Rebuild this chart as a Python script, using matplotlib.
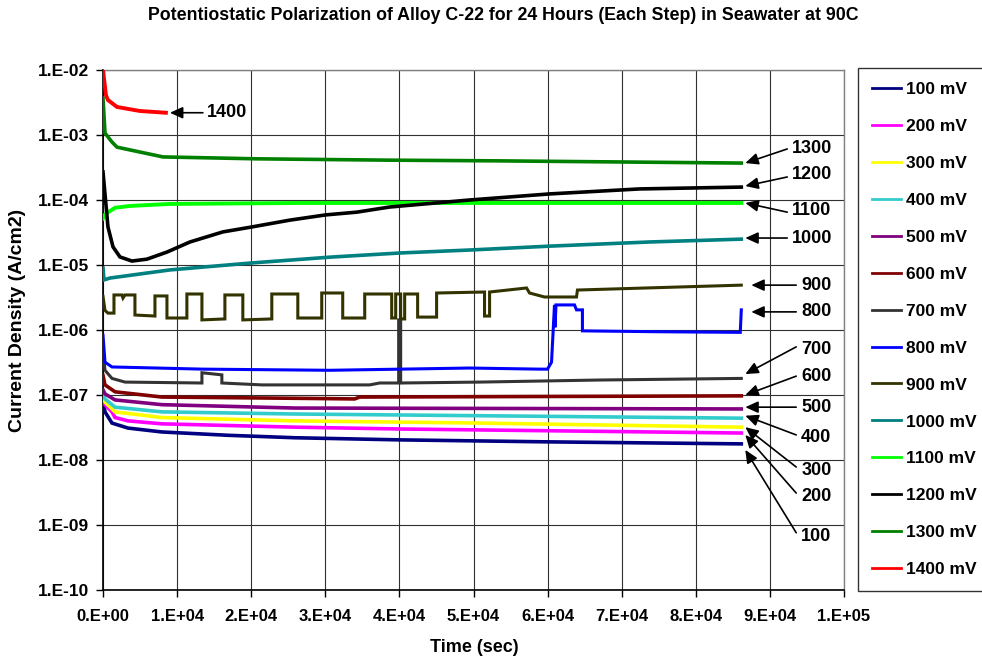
import matplotlib
matplotlib.use('Agg')
import matplotlib.pyplot as plt
from matplotlib.lines import Line2D

plt.rcParams['font.family'] = ['Liberation Sans', 'DejaVu Sans']
plt.rcParams['font.weight'] = 'bold'

# ---------------- data ----------------
title = "Potentiostatic Polarization of Alloy C-22 for 24 Hours (Each Step) in Seawater at 90C"
x_label = "Time (sec)"
y_label = "Current Density (A/cm2)"

xtick_values = [0, 1e4, 2e4, 3e4, 4e4, 5e4, 6e4, 7e4, 8e4, 9e4, 1e5]
xtick_labels = ['0.E+00', '1.E+04', '2.E+04', '3.E+04', '4.E+04', '5.E+04',
                '6.E+04', '7.E+04', '8.E+04', '9.E+04', '1.E+05']
ytick_values = [1e-10, 1e-9, 1e-8, 1e-7, 1e-6, 1e-5, 1e-4, 1e-3, 1e-2]
ytick_labels = ['1.E-10', '1.E-09', '1.E-08', '1.E-07', '1.E-06',
                '1.E-05', '1.E-04', '1.E-03', '1.E-02']

series_labels = ['100 mV', '200 mV', '300 mV', '400 mV', '500 mV', '600 mV', '700 mV',
                 '800 mV', '900 mV', '1000 mV', '1100 mV', '1200 mV', '1300 mV', '1400 mV']

t100 = [0, 270, 1210, 3370, 7950, 16850, 25880, 40040, 60260, 86140]
i100 = [8.4e-8, 5.5e-8, 3.7e-8, 3.1e-8, 2.7e-8, 2.4e-8, 2.2e-8, 2.04e-8, 1.9e-8, 1.77e-8]

t200 = [0, 270, 1210, 1620, 3370, 7950, 25880, 40040, 86140]
i200 = [9.0e-8, 7.1e-8, 5.5e-8, 4.5e-8, 4.0e-8, 3.6e-8, 3.2e-8, 3.0e-8, 2.6e-8]

t300 = [0, 270, 1620, 7950, 25880, 50820, 86140]
i300 = [9.7e-8, 7.8e-8, 5.5e-8, 4.5e-8, 4.0e-8, 3.7e-8, 3.2e-8]

t400 = [0, 270, 1620, 7950, 25880, 50820, 86140]
i400 = [1.04e-7, 8.7e-8, 6.5e-8, 5.5e-8, 5.1e-8, 4.8e-8, 4.4e-8]

t500 = [0, 270, 1620, 7950, 25880, 86140]
i500 = [1.2e-7, 1.04e-7, 8.4e-8, 7.1e-8, 6.3e-8, 6.1e-8]

t600 = [0, 270, 1620, 7950, 25880, 33970, 34640, 86140]
i600 = [2.0e-7, 1.43e-7, 1.12e-7, 9.3e-8, 8.9e-8, 8.7e-8, 9.3e-8, 9.7e-8]

t700 = [0, 270, 1210, 2970, 13350, 13350, 16040, 16040, 21430, 35990, 37340,
        39900, 39900, 40170, 40170, 50820, 66990, 86140]
i700 = [4.9e-7, 2.4e-7, 1.8e-7, 1.58e-7, 1.53e-7, 2.2e-7, 2.04e-7, 1.53e-7, 1.43e-7,
        1.43e-7, 1.53e-7, 1.53e-7, 1.43e-6, 1.43e-6, 1.53e-7, 1.58e-7, 1.7e-7, 1.8e-7]

t800 = [0, 270, 1210, 13480, 30600, 49470, 58910, 59990, 60530, 60930, 61000, 61130,
        63630, 63900, 64700, 64700, 75000, 86000, 86140]
i800 = [8.3e-7, 3.2e-7, 2.7e-7, 2.5e-7, 2.4e-7, 2.6e-7, 2.5e-7, 2.5e-7, 3.2e-7, 2.43e-6,
        1.1e-6, 2.43e-6, 2.43e-6, 2.04e-6, 2.04e-6, 9.7e-7, 9.4e-7, 9.2e-7, 2.04e-6]

t900 = [0, 270, 670, 1480, 1480, 2560, 2700, 2970, 4310, 4310, 7010, 7010, 8630, 8630,
        11320, 11320, 13350, 13350, 16450, 16450, 18870, 18870, 22780, 22780, 26290,
        26290, 29520, 29520, 32350, 32350, 35320, 35320, 38960, 38960, 39500, 39500,
        40170, 40170, 40710, 40710, 42460, 42460, 45020, 45020, 51490, 51490, 52170,
        52170, 57160, 57560, 59580, 63900, 64030, 86140]
i900 = [3.3e-6, 2.0e-6, 1.82e-6, 1.82e-6, 3.46e-6, 3.46e-6, 3.1e-6, 3.46e-6, 3.46e-6,
        1.7e-6, 1.64e-6, 3.34e-6, 3.34e-6, 1.53e-6, 1.53e-6, 3.58e-6, 3.58e-6, 1.43e-6,
        1.48e-6, 3.46e-6, 3.46e-6, 1.43e-6, 1.48e-6, 3.58e-6, 3.58e-6, 1.53e-6, 1.53e-6,
        3.71e-6, 3.71e-6, 1.53e-6, 1.53e-6, 3.58e-6, 3.58e-6, 1.53e-6, 1.53e-6, 3.58e-6,
        3.58e-6, 1.48e-6, 1.48e-6, 3.58e-6, 3.58e-6, 1.58e-6, 1.58e-6, 3.71e-6, 3.84e-6,
        1.64e-6, 1.64e-6, 3.84e-6, 4.43e-6, 3.71e-6, 3.22e-6, 3.22e-6, 4.12e-6, 4.9e-6]

t1000 = [0, 135, 940, 9030, 19820, 30600, 40040, 49470, 60260, 73740, 86140]
i1000 = [9.0e-6, 5.9e-6, 6.3e-6, 8.4e-6, 1.07e-5, 1.32e-5, 1.53e-5, 1.7e-5, 1.95e-5, 2.26e-5, 2.5e-5]

t1100 = [0, 270, 1620, 3640, 9030, 26560, 86140]
i1100 = [5.2e-5, 6.0e-5, 7.6e-5, 8.1e-5, 8.7e-5, 9.0e-5, 9.0e-5]

t1200 = [0, 670, 1350, 2290, 3910, 5930, 8630, 11730, 16180, 20090, 25210, 30060,
         34240, 38690, 49470, 60260, 72400, 86140]
i1200 = [2.7e-4, 3.85e-5, 1.9e-5, 1.33e-5, 1.15e-5, 1.23e-5, 1.58e-5, 2.26e-5, 3.23e-5,
         3.85e-5, 4.9e-5, 5.9e-5, 6.5e-5, 7.8e-5, 1.0e-4, 1.24e-4, 1.48e-4, 1.58e-4]

t1300 = [0, 270, 1210, 1890, 8090, 20760, 38690, 53520, 86140]
i1300 = [3.7e-3, 1.07e-3, 7.8e-4, 6.5e-4, 4.6e-4, 4.3e-4, 4.1e-4, 4.0e-4, 3.7e-4]

t1400 = [0, 400, 670, 1890, 4990, 8490]
i1400 = [1.0e-2, 4.1e-3, 3.45e-3, 2.7e-3, 2.34e-3, 2.2e-3]

# end-of-curve labels (text, arrow head, arrow tail, text anchor)
ann_text = ['1400', '1300', '1200', '1100', '1000', '900', '800',
            '700', '600', '500', '400', '300', '200', '100']
ann_head_t = [9030, 86680, 86680, 86680, 86680, 87490, 87490,
              86680, 86680, 86680, 86680, 86680, 86680, 86680]
ann_head_i = [2.2e-3, 3.7e-4, 1.64e-4, 9.0e-5, 2.6e-5, 4.9e-6, 1.9e-6,
              2.1e-7, 1.0e-7, 6.5e-8, 4.8e-8, 3.2e-8, 2.43e-8, 1.43e-8]
ann_tail_t = [13480, 92340, 92340, 92340, 92340, 93550, 93550,
              93550, 93550, 93550, 93550, 93550, 93550, 93550]
ann_tail_i = [2.2e-3, 6.1e-4, 2.26e-4, 6.5e-5, 2.6e-5, 4.9e-6, 1.9e-6,
              5.5e-7, 1.95e-7, 6.5e-8, 2.43e-8, 7.8e-9, 3.1e-9, 7.6e-10]
ann_text_t = [14020, 93010, 93010, 93010, 93010, 94220, 94220,
              94220, 94220, 94220, 94220, 94220, 94220, 94220]
ann_text_i = [2.2e-3, 6.1e-4, 2.43e-4, 6.8e-5, 2.6e-5, 4.9e-6, 1.9e-6,
              5.1e-7, 1.95e-7, 6.5e-8, 2.2e-8, 7.0e-9, 2.7e-9, 6.6e-10]

# ---------------- style ----------------
colors = ['#000080', '#FF00FF', '#FFFF00', '#33CCCC', '#800080', '#800000', '#333333',
          '#0000FF', '#333300', '#008080', '#00FF00', '#000000', '#008000', '#FF0000']
widths = [2.6, 2.6, 2.6, 2.6, 2.6, 2.6, 2.2, 2.2, 2.2, 2.6, 2.8, 2.6, 2.6, 2.8]

times = [t100, t200, t300, t400, t500, t600, t700, t800, t900, t1000, t1100, t1200, t1300, t1400]
currents = [i100, i200, i300, i400, i500, i600, i700, i800, i900, i1000, i1100, i1200, i1300, i1400]

fig = plt.figure(figsize=(9.82, 6.59), dpi=100)
ax = fig.add_axes([103/982, 1 - 590/659, (844-103)/982, (590-70)/659])

for t, c, col, w in zip(times, currents, colors, widths):
    ax.plot(t, c, color=col, lw=w, solid_joinstyle='miter', zorder=3)

ax.set_yscale('log')
ax.set_xlim(0, 1e5)
ax.set_ylim(1e-10, 1e-2)
ax.set_xticks(xtick_values)
ax.set_xticklabels(xtick_labels)
ax.set_yticks(ytick_values)
ax.set_yticklabels(ytick_labels)
ax.minorticks_off()
ax.tick_params(axis='both', direction='out', length=5, width=1, color='black')
ax.tick_params(axis='x', pad=9, labelsize=12)
ax.tick_params(axis='y', pad=5, labelsize=12.5)
for lab in ax.get_xticklabels() + ax.get_yticklabels():
    lab.set_fontweight('bold')

ax.grid(True, which='major', color='#303030', lw=0.8, zorder=1)
ax.set_axisbelow(True)
for side in ['top', 'right']:
    ax.spines[side].set_color('#808080')
    ax.spines[side].set_linewidth(1.0)
for side in ['left', 'bottom']:
    ax.spines[side].set_color('black')
    ax.spines[side].set_linewidth(1.2)

fig.text(503/982, 1 - 15/659, title, ha='center', va='center', fontsize=12.8, fontweight='bold')
fig.text(474/982, 1 - 648/659, x_label, ha='center', va='center', fontsize=13, fontweight='bold')
fig.text(18/982, 1 - 320/659, y_label, ha='center', va='center', rotation=90,
         fontsize=14, fontweight='bold')

for txt, ht, hi, tt, ti, xt, xi in zip(ann_text, ann_head_t, ann_head_i, ann_tail_t,
                                        ann_tail_i, ann_text_t, ann_text_i):
    ax.annotate('', xy=(ht, hi), xytext=(tt, ti), annotation_clip=False,
                arrowprops=dict(arrowstyle='-|>,head_length=0.55,head_width=0.25',
                                color='black', lw=1.2, shrinkA=0, shrinkB=0,
                                mutation_scale=14))
    ax.text(xt, xi, txt, ha='left', va='center', fontsize=13, fontweight='bold',
            clip_on=False)

handles = [Line2D([0], [0], color=col, lw=2.0) for col in colors]
leg = fig.legend(handles, series_labels, loc='upper left',
                 bbox_to_anchor=(858/982, 1 - 68/659), borderaxespad=0,
                 frameon=True, fancybox=False, edgecolor='black',
                 prop={'size': 12.5, 'weight': 'bold'},
                 handlelength=1.7, handletextpad=0.25, labelspacing=1.255,
                 borderpad=0.8)
leg.get_frame().set_linewidth(1.0)

fig.savefig('out.png', dpi=100)
